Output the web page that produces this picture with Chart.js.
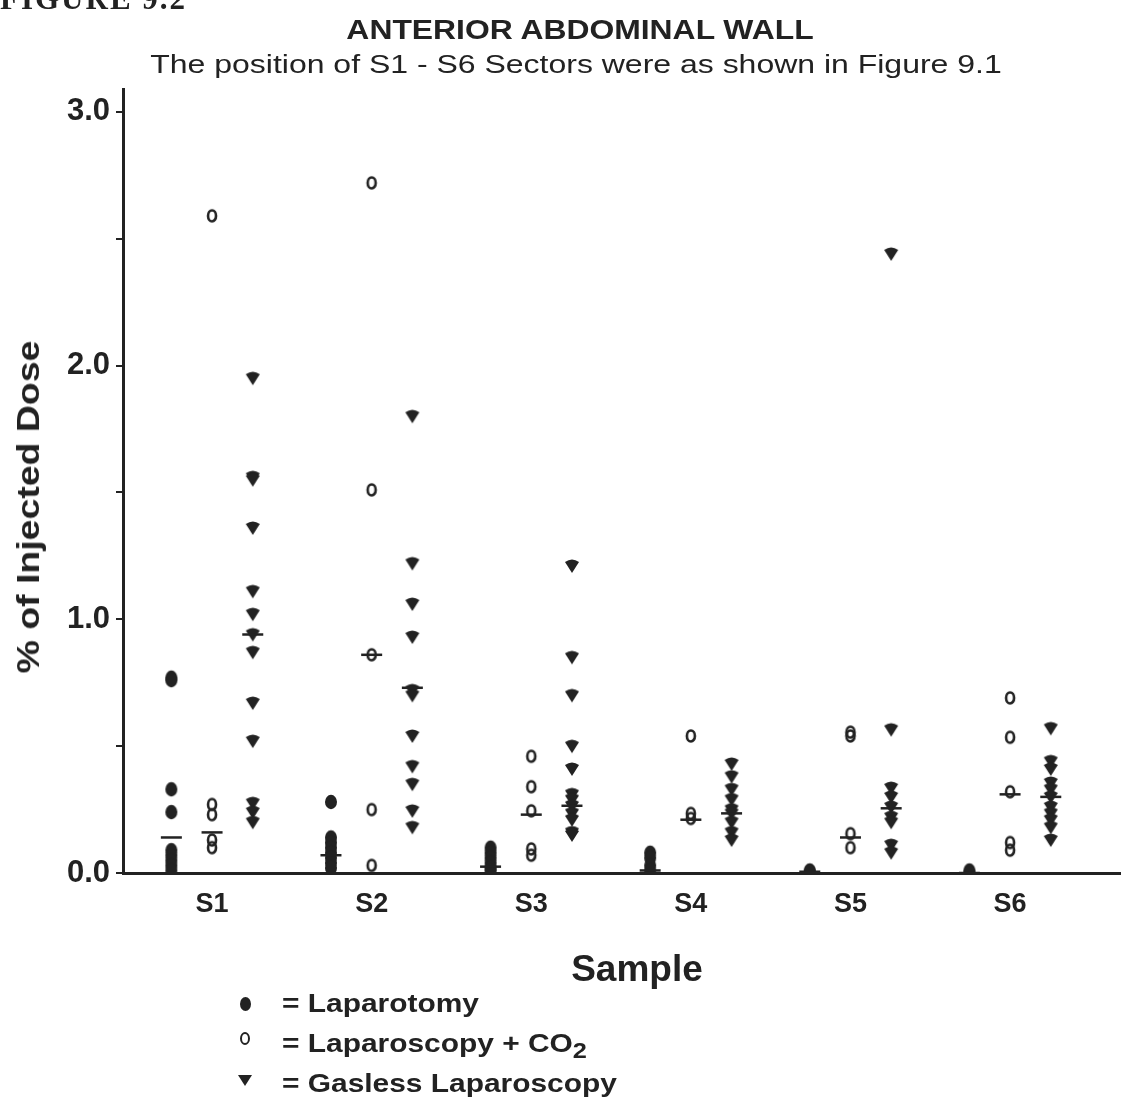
<!DOCTYPE html>
<html>
<head>
<meta charset="utf-8">
<script src="https://cdn.jsdelivr.net/npm/chart.js@4"></script>
<style>
  html, body { margin: 0; padding: 0; background: #fff; overflow: hidden; }
  #wrap { position: relative; width: 1121px; height: 1099px; font-family: "Liberation Sans", Arial, sans-serif; color: #222; }
  #fig { position: absolute; left: 0; top: -19px; font: bold 31px "Liberation Serif", serif; letter-spacing: 2px; }
  .ctr { position: absolute; width: 0; height: 0; }
  .ctr span { position: absolute; left: 0; top: 0; white-space: nowrap; line-height: 1; }
  #title { left: 580px; top: 30px; }
  #title span { font-size: 27px; font-weight: bold; transform: translate(-50%, -50%) scaleX(1.18); }
  #subtitle { left: 576px; top: 64px; }
  #subtitle span { font-size: 26px; transform: translate(-50%, -50%) scaleX(1.23); }
  #xtitle { left: 637px; top: 968px; }
  #xtitle span { font-size: 37px; font-weight: bold; transform: translate(-50%, -50%); }
  #ytitle { left: 28px; top: 507px; }
  #ytitle span { font-size: 32px; font-weight: bold; transform: translate(-50%, -50%) rotate(-90deg) scaleX(1.17); }
  .legend { position: absolute; left: 236px; top: 983px; font-size: 26px; font-weight: bold; }
  .row { height: 40px; line-height: 40px; position: relative; padding-left: 46px; white-space: nowrap; }
  .row .txt { display: inline-block; transform: scaleX(1.15); transform-origin: left center; }
  .mk { position: absolute; }
  .dot { left: 4px; top: 14px; width: 11px; height: 14px; border-radius: 50%; background: #222; }
  .ring { left: 4px; top: 9px; width: 6px; height: 9px; border: 2.5px solid #222; border-radius: 50%; }
  .tri { left: 2px; top: 12px; width: 0; height: 0; border-left: 7px solid transparent; border-right: 7px solid transparent; border-top: 11px solid #222; }
  sub { font-size: 22px; vertical-align: -6px; line-height: 0; }
</style>
</head>
<body>
<div id="wrap">
  <canvas id="chart" width="1121" height="1099"></canvas>
  <div id="fig">FIGURE 9.2</div>
  <div class="ctr" id="title"><span>ANTERIOR ABDOMINAL WALL</span></div>
  <div class="ctr" id="subtitle"><span>The position of S1 - S6 Sectors were as shown in Figure 9.1</span></div>
  <div class="ctr" id="ytitle"><span>% of Injected Dose</span></div>
  <div class="ctr" id="xtitle"><span>Sample</span></div>
  <div class="legend">
    <div class="row"><span class="mk dot"></span><span class="txt">= Laparotomy</span></div>
    <div class="row"><span class="mk ring"></span><span class="txt">= Laparoscopy + CO<sub>2</sub></span></div>
    <div class="row"><span class="mk tri"></span><span class="txt">= Gasless Laparoscopy</span></div>
  </div>
</div>
<script>
// ====== Data ======
const samples = ['S1', 'S2', 'S3', 'S4', 'S5', 'S6'];
const yTicks = [0, 0.5, 1.0, 1.5, 2.0, 2.5, 3.0];

// % of injected dose, one list per sample
const laparotomy = [
  [0.77, 0.76, 0.33, 0.24, 0.09, 0.07, 0.05, 0.03, 0.01],
  [0.28, 0.14, 0.12, 0.10, 0.08, 0.06, 0.04, 0.02],
  [0.10, 0.08, 0.06, 0.04, 0.02, 0.01],
  [0.08, 0.06, 0.03, 0.01],
  [0.01, 0.005],
  [0.01, 0.0]
];
const laparoscopyCO2 = [
  [2.59, 0.27, 0.23, 0.13, 0.10],
  [2.72, 1.51, 0.86, 0.25, 0.03],
  [0.46, 0.34, 0.245, 0.095, 0.07],
  [0.54, 0.235, 0.215],
  [0.555, 0.54, 0.155, 0.10],
  [0.69, 0.535, 0.32, 0.12, 0.09]
];
const gasless = [
  [1.95, 1.56, 1.55, 1.36, 1.11, 1.02, 0.94, 0.87, 0.67, 0.52, 0.275, 0.24, 0.20],
  [1.80, 1.22, 1.06, 0.93, 0.72, 0.70, 0.54, 0.42, 0.35, 0.245, 0.18],
  [1.21, 0.85, 0.70, 0.50, 0.41, 0.31, 0.29, 0.265, 0.235, 0.21, 0.16, 0.15],
  [0.43, 0.38, 0.33, 0.29, 0.25, 0.235, 0.20, 0.16, 0.13],
  [2.44, 0.565, 0.335, 0.30, 0.26, 0.22, 0.20, 0.11, 0.08],
  [0.57, 0.44, 0.41, 0.355, 0.33, 0.30, 0.26, 0.235, 0.21, 0.18, 0.13]
];

// median bars
const laparotomyMedian = [0.14, 0.07, 0.025, 0.01, 0.005, 0.0];
const co2Median = [0.16, 0.86, 0.23, 0.21, 0.14, 0.31];
const gaslessMedian = [0.94, 0.73, 0.265, 0.235, 0.255, 0.30];

// ====== Helpers ======
const INK = '#222';
const OFFSET = 0.255; // side shift of the groups inside a sample

function toPoints(groups, shift) {
  const pts = [];
  groups.forEach((vals, i) => vals.forEach(v => pts.push({ x: i + 1 + shift, y: v })));
  return pts;
}
function medianPoints(vals, shift) {
  return vals.map((v, i) => ({ x: i + 1 + shift, y: v }));
}

function marker(kind) {
  const c = document.createElement('canvas');
  c.width = 18; c.height = 18;
  const g = c.getContext('2d');
  g.fillStyle = INK; g.strokeStyle = INK;
  if (kind === 'dot') {
    g.beginPath(); g.ellipse(9, 9, 6, 7.2, 0, 0, Math.PI * 2); g.fill();
  } else if (kind === 'ring') {
    g.lineWidth = 2.6;
    g.beginPath(); g.ellipse(9, 9, 4, 5.5, 0, 0, Math.PI * 2); g.stroke();
  } else {
    g.beginPath();
    g.moveTo(2, 5); g.quadraticCurveTo(9, 0, 16, 5);
    g.lineTo(9, 16); g.closePath(); g.fill();
  }
  return c;
}

Chart.defaults.font.family = '"Liberation Sans", Arial, sans-serif';
Chart.defaults.color = INK;

const medianStyle = { pointStyle: 'line', pointRadius: 10.5, borderColor: INK, borderWidth: 2.5, pointHoverRadius: 10.5 };

const ctx = document.getElementById('chart').getContext('2d');
const chart = new Chart(ctx, {
  type: 'scatter',
  data: {
    datasets: [
      { label: 'Laparotomy median', data: medianPoints(laparotomyMedian, -OFFSET), ...medianStyle },
      { label: 'CO2 median', data: medianPoints(co2Median, 0), ...medianStyle },
      { label: 'Gasless median', data: medianPoints(gaslessMedian, OFFSET), ...medianStyle },
      { label: 'Laparotomy', data: toPoints(laparotomy, -OFFSET), pointStyle: marker('dot') },
      { label: 'Laparoscopy + CO2', data: toPoints(laparoscopyCO2, 0), pointStyle: marker('ring') },
      { label: 'Gasless Laparoscopy', data: toPoints(gasless, OFFSET), pointStyle: marker('tri') }
    ]
  },
  options: {
    responsive: false,
    animation: false,
    layout: { autoPadding: false, padding: { top: 89, right: 0, bottom: 110, left: 0 } },
    plugins: {
      legend: { display: false },
      tooltip: { enabled: false }
    },
    scales: {
      x: {
        type: 'linear',
        min: 0.442,
        max: 6.695,
        afterBuildTicks: s => { s.ticks = samples.map((l, i) => ({ value: i + 1 })); },
        afterFit: s => { s.height = 116; },
        ticks: {
          callback: v => samples[Math.round(v) - 1] || '',
          font: { size: 27, weight: 'bold' },
          color: INK,
          padding: 7,
          autoSkip: false,
          maxRotation: 0
        },
        grid: { display: false },
        border: { color: INK, width: 3 }
      },
      y: {
        min: 0,
        max: 3.09,
        afterBuildTicks: s => { s.ticks = yTicks.map(v => ({ value: v })); },
        afterFit: s => { s.width = 123; },
        ticks: {
          callback: v => (Math.abs(v - Math.round(v)) < 1e-6 ? v.toFixed(1) : ''),
          font: { size: 31, weight: 'bold' },
          color: INK,
          padding: 6
        },
        grid: { drawOnChartArea: false, tickLength: 7, color: INK, lineWidth: 2 },
        border: { color: INK, width: 3 }
      }
    }
  }
});
</script>
</body>
</html>
